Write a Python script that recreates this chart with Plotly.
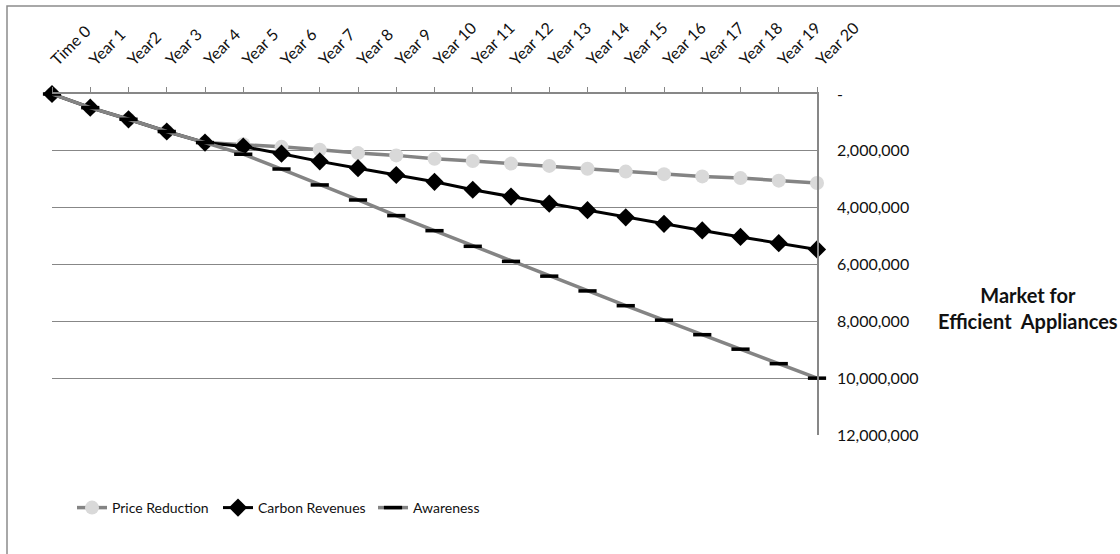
import plotly.graph_objects as go

# Periods along the top axis
periods = ["Time 0", "Year 1", "Year2", "Year 3", "Year 4", "Year 5", "Year 6",
           "Year 7", "Year 8", "Year 9", "Year 10", "Year 11", "Year 12", "Year 13",
           "Year 14", "Year 15", "Year 16", "Year 17", "Year 18", "Year 19", "Year 20"]

# Market for efficient appliances under each scenario (units)
price_reduction = [0, 480000, 890000, 1320000, 1710000, 1770000, 1860000, 1960000,
                   2080000, 2160000, 2280000, 2360000, 2450000, 2530000, 2630000,
                   2730000, 2820000, 2900000, 2960000, 3050000, 3130000]
carbon_revenues = [0, 480000, 890000, 1320000, 1710000, 1850000, 2100000, 2370000,
                   2610000, 2850000, 3090000, 3370000, 3610000, 3860000, 4090000,
                   4340000, 4570000, 4800000, 5030000, 5250000, 5470000]
awareness = [0, 480000, 890000, 1320000, 1710000, 2120000, 2640000, 3200000,
             3730000, 4280000, 4810000, 5360000, 5890000, 6410000, 6930000,
             7450000, 7960000, 8470000, 8980000, 9490000, 10000000]

# Right-hand axis ticks
y_ticks = [0, 2000000, 4000000, 6000000, 8000000, 10000000, 12000000]
y_tick_text = ["-", "2,000,000", "4,000,000", "6,000,000", "8,000,000",
               "10,000,000", "12,000,000"]

GRID = "#878787"
FONT = "Lato, 'Open Sans', sans-serif"

# plot area in pixels: x 52..817, y 94..435
def px_x(p):
    return (p - 52) / 765


def px_y(p):
    return (435 - p) / 341


fig = go.Figure()
fig.add_trace(go.Scatter(
    x=periods, y=price_reduction, name="Price Reduction", mode="lines+markers",
    line=dict(color="#848484", width=3.5),
    marker=dict(symbol="circle", size=14, color="#d9d9d9"),
    cliponaxis=False, legend="legend"))
fig.add_trace(go.Scatter(
    x=periods, y=carbon_revenues, name="Carbon Revenues", mode="lines+markers",
    line=dict(color="#000000", width=3),
    marker=dict(symbol="diamond", size=14, color="#000000"),
    cliponaxis=False, legend="legend2"))
fig.add_trace(go.Scatter(
    x=periods, y=awareness, name="Awareness", mode="lines+markers",
    line=dict(color="#848484", width=3.5),
    marker=dict(symbol="line-ew", size=13, color="#000000",
                line=dict(color="#000000", width=3.5)),
    cliponaxis=False, legend="legend3"))

# Outer chart border
fig.add_shape(type="rect", xref="paper", yref="paper",
              x0=px_x(7), x1=px_x(1130), y0=px_y(570), y1=px_y(6),
              line=dict(color="#8c8c8c", width=1.5), fillcolor="rgba(0,0,0,0)",
              layer="below")

fig.add_annotation(
    text="<b>Market for<br>Efficient  Appliances</b>", xref="paper", yref="paper",
    x=px_x(1028), y=px_y(308), xanchor="center", yanchor="middle",
    showarrow=False, font=dict(family=FONT, size=20, color="#111111"),
    align="center")

legend_style = dict(orientation="h", xanchor="left", yanchor="middle",
                    font=dict(family=FONT, size=14, color="#111111"),
                    bgcolor="rgba(0,0,0,0)", itemwidth=30)

fig.update_layout(
    width=1120, height=554,
    margin=dict(l=52, r=303, t=94, b=119),
    paper_bgcolor="white", plot_bgcolor="white",
    showlegend=True,
    legend=dict(x=px_x(72), y=px_y(508), **legend_style),
    legend2=dict(x=px_x(218), y=px_y(508), **legend_style),
    legend3=dict(x=px_x(373), y=px_y(508), **legend_style),
    font=dict(family=FONT, color="#111111"),
)

fig.update_xaxes(
    type="category", side="top", range=[0, 20], tickangle=-45,
    showgrid=False, showline=True, linecolor=GRID, linewidth=1.5,
    ticks="outside", ticklen=5, tickcolor=GRID, tickwidth=1,
    ticklabelstandoff=12,
    tickfont=dict(family=FONT, size=16, color="#111111"))

fig.update_yaxes(
    side="right", range=[12000000, 0], tickvals=y_ticks, ticktext=y_tick_text,
    showgrid=True, gridcolor=GRID, gridwidth=1, zeroline=False,
    showline=True, linecolor=GRID, linewidth=1.5, ticks="",
    ticklabelstandoff=15,
    tickfont=dict(family=FONT, size=16, color="#111111"))

fig.write_html("out.html")
